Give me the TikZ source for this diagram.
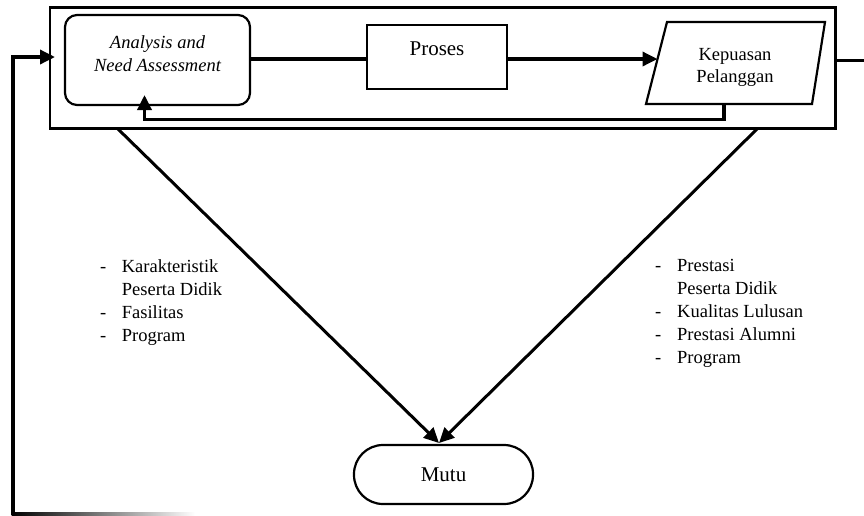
\documentclass[tikz,border=0pt]{standalone}
\usepackage{fontspec}
\setmainfont{Liberation Serif}
\usetikzlibrary{arrows.meta}
\begin{document}
\begin{tikzpicture}[x=1pt,y=-1pt,
  boxline/.style={line width=2.2pt},
  conn/.style={line width=3.4pt},
  diag/.style={line width=3pt},
  arr/.style={-{Triangle[length=15pt,width=14pt]}},
  txt/.style={font=\fontsize{18.5}{22.8}\selectfont, inner sep=0pt},
  bigtxt/.style={font=\fontsize{21}{25}\selectfont, inner sep=0pt},
  ]
\useasboundingbox (0,0) rectangle (864,515);

% outer frame
\node[draw, boxline, minimum width=785.5pt, minimum height=121pt, inner sep=0pt] (outer) at (442.75,68) {};

% Analysis box
\node[draw, boxline, rounded corners=12pt, minimum width=185pt, minimum height=90pt, inner sep=0pt] (A) at (157.5,60) {};
\node[txt, anchor=base, font=\fontsize{18.5}{22.8}\selectfont\itshape] (At1) at (157.5,48) {Analysis and};
\node[txt, anchor=base, font=\fontsize{18.5}{22.8}\selectfont\itshape] (At2) at (157.5,71) {Need Assessment};

% Proses box
\node[draw, line width=2.6pt, minimum width=140pt, minimum height=64pt, inner sep=0pt] (P) at (437,57) {};
\node[bigtxt, anchor=base] (Pt) at (437,55) {Proses};

% Kepuasan parallelogram
\coordinate (K1) at (667,22);
\coordinate (K2) at (825,22);
\coordinate (K3) at (812,104);
\coordinate (K4) at (646,104);
\draw[boxline, line join=miter] (K1) -- (K2) -- (K3) -- (K4) -- cycle;
\node[txt, anchor=base] (Kt1) at (735,60) {Kepuasan};
\node[txt, anchor=base] (Kt2) at (735,82) {Pelanggan};
\coordinate (Kin) at (657.5,59);
\coordinate (Kb) at (724,104);

% Mutu
\node[draw, line width=2.2pt, rounded corners=29pt, minimum width=179pt, minimum height=59pt, inner sep=0pt, bigtxt] (M) at (443.5,474.5) {Mutu};
\coordinate (Mtip) at (439,443);

% connectors in the frame
\coordinate (PL) at (P.west |- 0,59);
\coordinate (AR) at (A.east |- 0,59);
\coordinate (PR) at (P.east |- 0,59);
\draw[conn] (AR) -- (PL);
\draw[conn, arr] (PR) -- (Kin);
\coordinate (Afb) at (144.5,95);
\draw[conn, arr] (Kb) -- ++(0,15.5) -| (Afb);

% right exit
\coordinate (Ro) at (outer.east |- 0,60.5);
\coordinate (Rend) at (864,60.5);
\draw[line width=2.4pt] (Ro) -- (Rend);

% left loop back
\coordinate (Lb) at (13,514);
\coordinate (Ain) at (55,57);
\shade[left color=black, right color=white] (11.5,512.5) rectangle (195,515);
\draw[conn, arr] (Lb) |- (Ain);

% diagonals
\coordinate (D1) at (118,129);
\coordinate (D2) at (757,129);
\draw[diag, arr] (D1) -- (Mtip);
\draw[diag, arr] (D2) -- (Mtip);

% lists (base anchor = baseline of last line)
\node[txt, anchor=base west, align=left] (L1) at (100,341)
  {\makebox[21.7pt][l]{-}Karakteristik\\\hspace*{21.7pt}Peserta Didik\\\makebox[21.7pt][l]{-}Fasilitas\\\makebox[21.7pt][l]{-}Program};
\node[txt, anchor=base west, align=left] (L2) at (655,363)
  {\makebox[22pt][l]{-}Prestasi\\\hspace*{22pt}Peserta Didik\\\makebox[22pt][l]{-}Kualitas Lulusan\\\makebox[22pt][l]{-}Prestasi Alumni\\\makebox[22pt][l]{-}Program};
\end{tikzpicture}
\end{document}
